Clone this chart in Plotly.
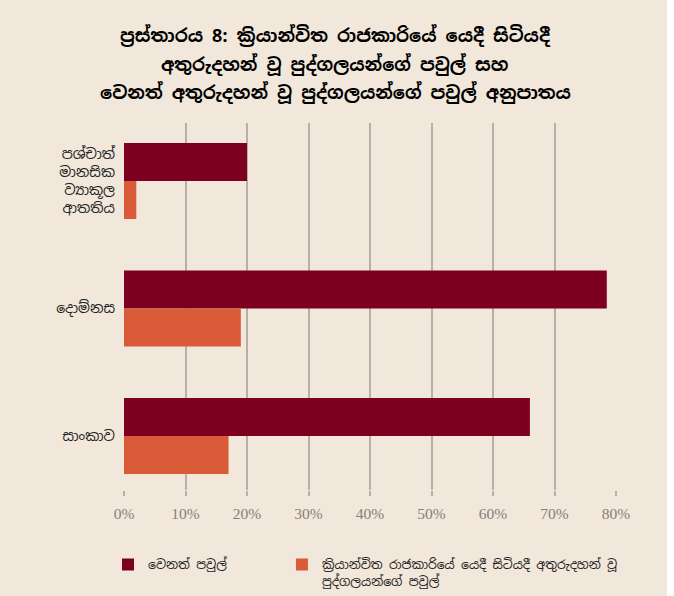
import plotly.graph_objects as go

categories = ["පශ්චාත්<br>මානසික<br>ව්‍යාකූල<br>ආතතිය", "දොම්නස", "සාංකාව"]
series_names = ["වෙනත් පවුල්", "ක්‍රියාන්විත රාජකාරියේ යෙදී සිටියදී අතුරුදහන් වූ<br>පුද්ගලයන්ගේ පවුල්"]
other_families = [0.20, 0.785, 0.66]
disappeared_families = [0.02, 0.19, 0.17]
tick_vals = [0, 0.1, 0.2, 0.3, 0.4, 0.5, 0.6, 0.7, 0.8]
tick_text = ["0%", "10%", "20%", "30%", "40%", "50%", "60%", "70%", "80%"]
title_lines = ["ප්‍රස්තාරය 8: ක්‍රියාන්විත රාජකාරියේ යෙදී සිටියදී",
               "අතුරුදහන් වූ පුද්ගලයන්ගේ පවුල් සහ",
               "වෙනත් අතුරුදහන් වූ පුද්ගලයන්ගේ පවුල් අනුපාතය"]

BG = "#F1E7DA"
DARK = "#7E0021"
ORANGE = "#DA5B38"
GRID = "#B8B0A8"
SIN_FONT = "Noto Sans Sinhala, Iskoola Pota, Noto Sans, sans-serif"
LEG_FONT = dict(family=SIN_FONT, size=12.5, color="#222222")
TITLE_FONT = dict(family=SIN_FONT, size=18, color="#000000", weight="bold")
H = 596
TITLE_X = 335 / 667
TITLE_Y_PX = [36, 64, 92]

fig = go.Figure()
fig.add_trace(go.Bar(y=categories, x=other_families, orientation="h",
                     name=series_names[0], marker_color=DARK, marker_line_width=0,
                     legend="legend"))
fig.add_trace(go.Bar(y=categories, x=disappeared_families, orientation="h",
                     name=series_names[1], marker_color=ORANGE, marker_line_width=0,
                     legend="legend2"))

fig.update_layout(
    width=667, height=H,
    paper_bgcolor=BG, plot_bgcolor=BG,
    margin=dict(l=124, r=51, t=123, b=106, autoexpand=False),
    barmode="group", bargap=0.404, bargroupgap=0,
    title=dict(text=title_lines[0], x=TITLE_X, xref="container", xanchor="center",
               y=1 - TITLE_Y_PX[0] / H, yref="container", yanchor="middle",
               font=TITLE_FONT),
    showlegend=True,
    legend=dict(orientation="h", x=-0.0325, xanchor="left", y=-0.163, yanchor="top",
                bgcolor="rgba(0,0,0,0)", valign="top", font=LEG_FONT, itemclick=False),
    legend2=dict(orientation="h", x=0.321, xanchor="left", y=-0.163, yanchor="top",
                 bgcolor="rgba(0,0,0,0)", valign="top", font=LEG_FONT, itemclick=False),
    xaxis=dict(range=[0, 0.8], tickvals=tick_vals, ticktext=tick_text,
               showgrid=True, gridcolor=GRID, gridwidth=1.5, zeroline=False,
               showline=False, ticks="outside", ticklen=5, tickcolor=GRID, tickwidth=1.5,
               ticklabelstandoff=4, automargin=False,
               tickfont=dict(family="Liberation Serif, DejaVu Serif, serif", size=15.5, color="#858079")),
    yaxis=dict(range=[2.424, -0.455], showgrid=False, zeroline=False, showline=False,
               ticks="", ticklabelstandoff=8, automargin=False,
               tickfont=dict(family=SIN_FONT, size=14, color="#222222")),
)

for line, ypx in zip(title_lines[1:], TITLE_Y_PX[1:]):
    fig.add_annotation(text=line, xref="paper", yref="paper",
                       x=(TITLE_X * 667 - 124) / 492, y=(490 - ypx) / 367,
                       xanchor="center", yanchor="middle", showarrow=False,
                       font=TITLE_FONT)

fig.write_html("out.html", config={"displayModeBar": False},
               post_script="document.body.style.margin='0';document.body.style.padding='0';")
